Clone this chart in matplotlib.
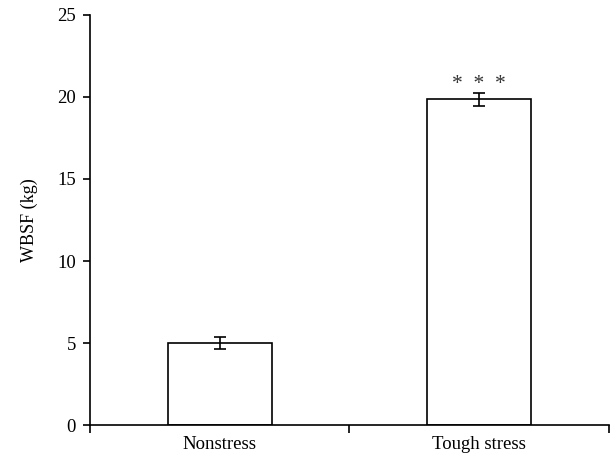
import numpy as np
import matplotlib.pyplot as plt

categories = ['Nonstress', 'Tough stress']
wbsf = [5.02, 19.85]
wbsf_err = [0.37, 0.4]
ytick_vals = [0, 5, 10, 15, 20, 25]

plt.rcParams['font.family'] = ['Liberation Serif', 'DejaVu Serif']

fig = plt.figure(figsize=(6.1, 4.58), dpi=100)
ax = fig.add_axes([0.1475, 0.0714, 0.8505, 0.8966])

x = np.arange(len(categories))
ax.bar(x, wbsf, width=0.4, color='white', edgecolor='black', linewidth=1.2,
       yerr=wbsf_err, capsize=4, error_kw=dict(elinewidth=1.2, capthick=1.2, ecolor='black'))

# significance mark
ax.text(x[1], 20.75, '*  *  *', ha='center', va='center', fontsize=15.5, color='#333333')

ax.set_xlim(-0.5, 1.5)
ax.set_ylim(0, 25)
ax.set_yticks(ytick_vals)
ax.set_xticks(x)
ax.set_xticklabels(categories)
ax.set_xticks([-0.5, 0.5, 1.5], minor=True)
ax.tick_params(axis='x', which='major', length=0, pad=8, labelsize=13.5)
ax.tick_params(axis='x', which='minor', length=6, width=1.2, direction='out')
ax.tick_params(axis='y', length=5, width=1.2, direction='out', labelsize=13.5, pad=5)
ax.set_ylabel('WBSF (kg)', fontsize=13, labelpad=14)

for side in ['top', 'right']:
    ax.spines[side].set_visible(False)
for side in ['left', 'bottom']:
    ax.spines[side].set_linewidth(1.2)

fig.savefig('out.png', dpi=100)
